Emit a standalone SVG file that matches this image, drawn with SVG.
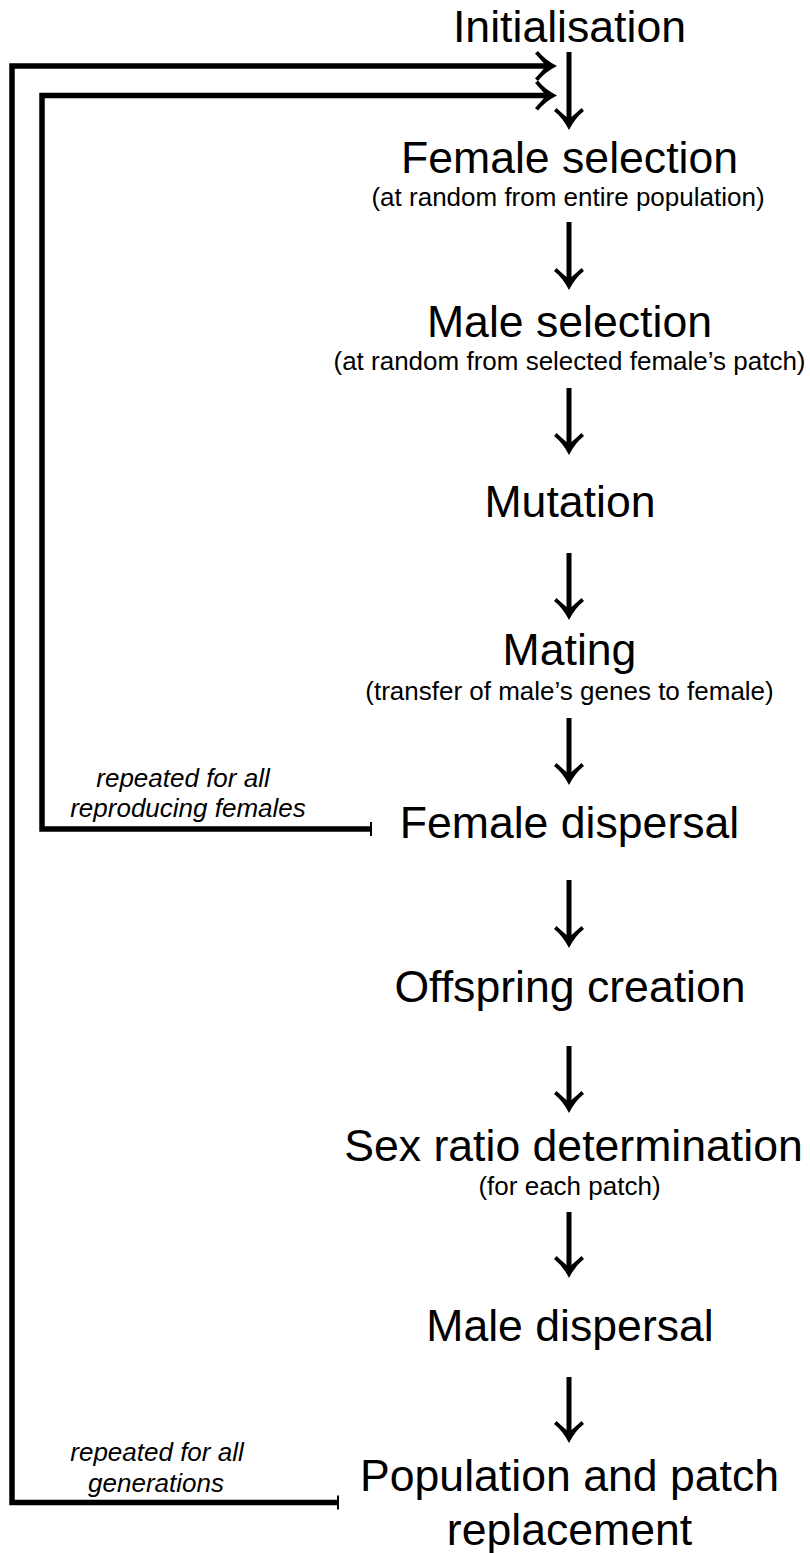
<svg xmlns="http://www.w3.org/2000/svg" width="810" height="1553" viewBox="0 0 810 1553">
<style>
.t{font-family:"Liberation Sans",Arial,sans-serif;font-size:44.6px;fill:#000;text-anchor:middle}
.s{font-family:"Liberation Sans",Arial,sans-serif;font-size:26px;fill:#000;text-anchor:middle}
.i{font-family:"Liberation Sans",Arial,sans-serif;font-size:26px;font-style:italic;fill:#000;text-anchor:middle}
.c{fill:none;stroke:#000;stroke-width:5.5;stroke-linejoin:miter}
.a{fill:none;stroke:#000;stroke-width:5}
.tee{stroke:#000;stroke-width:2}
</style>
<defs>
<marker id="ah" viewBox="-26 -16 28 32" refX="-7" refY="0" markerUnits="userSpaceOnUse" markerWidth="28" markerHeight="32" orient="auto">
<path d="M0,0 Q-12,-6 -19,-15 L-22,-12.5 Q-15,-5 -11,0 Q-15,5 -22,12.5 L-19,15 Q-12,6 0,0Z" fill="#000"/>
</marker>
</defs>
<g id="connectors">
<line class="a" x1="569" y1="52" x2="569" y2="123" marker-end="url(#ah)"/>
<line class="a" x1="569" y1="222" x2="569" y2="283" marker-end="url(#ah)"/>
<line class="a" x1="569" y1="388" x2="569" y2="448" marker-end="url(#ah)"/>
<line class="a" x1="569" y1="553" x2="569" y2="613" marker-end="url(#ah)"/>
<line class="a" x1="569" y1="718" x2="569" y2="778" marker-end="url(#ah)"/>
<line class="a" x1="569" y1="880" x2="569" y2="941" marker-end="url(#ah)"/>
<line class="a" x1="569" y1="1046" x2="569" y2="1106" marker-end="url(#ah)"/>
<line class="a" x1="569" y1="1212" x2="569" y2="1271" marker-end="url(#ah)"/>
<line class="a" x1="569" y1="1377" x2="569" y2="1436" marker-end="url(#ah)"/>
<path class="c" d="M371,829 H42 V95.5 H550" marker-end="url(#ah)"/>
<line class="tee" x1="371" y1="822" x2="371" y2="836"/>
<path class="c" d="M338,1502.5 H12 V66 H550" marker-end="url(#ah)"/>
<line class="tee" x1="338" y1="1495.5" x2="338" y2="1509.5"/>
</g>
<g id="n-init"><text class="t" x="569.5" y="42">Initialisation</text></g>
<g id="n-female-sel"><text class="t" x="569.5" y="173">Female selection</text><text class="s" x="568" y="206">(at random from entire population)</text></g>
<g id="n-male-sel"><text class="t" x="569.5" y="337">Male selection</text><text class="s" x="569.5" y="370">(at random from selected female’s patch)</text></g>
<g id="n-mutation"><text class="t" x="570" y="517">Mutation</text></g>
<g id="n-mating"><text class="t" x="569.5" y="665">Mating</text><text class="s" x="569.5" y="700">(transfer of male’s genes to female)</text></g>
<g id="n-female-disp"><text class="t" x="569.5" y="838">Female dispersal</text></g>
<g id="n-offspring"><text class="t" x="570" y="1002">Offspring creation</text></g>
<g id="n-sexratio"><text class="t" x="573.5" y="1161">Sex ratio determination</text><text class="s" x="569.5" y="1195">(for each patch)</text></g>
<g id="n-male-disp"><text class="t" x="570" y="1341">Male dispersal</text></g>
<g id="n-replace"><text class="t" x="569.5" y="1491">Population and patch</text><text class="t" x="569.5" y="1545">replacement</text></g>
<g id="l-females"><text class="i" x="183" y="787">repeated for all</text><text class="i" x="188" y="817">reproducing females</text></g>
<g id="l-gens"><text class="i" x="157" y="1461">repeated for all</text><text class="i" x="156" y="1492">generations</text></g>
</svg>
